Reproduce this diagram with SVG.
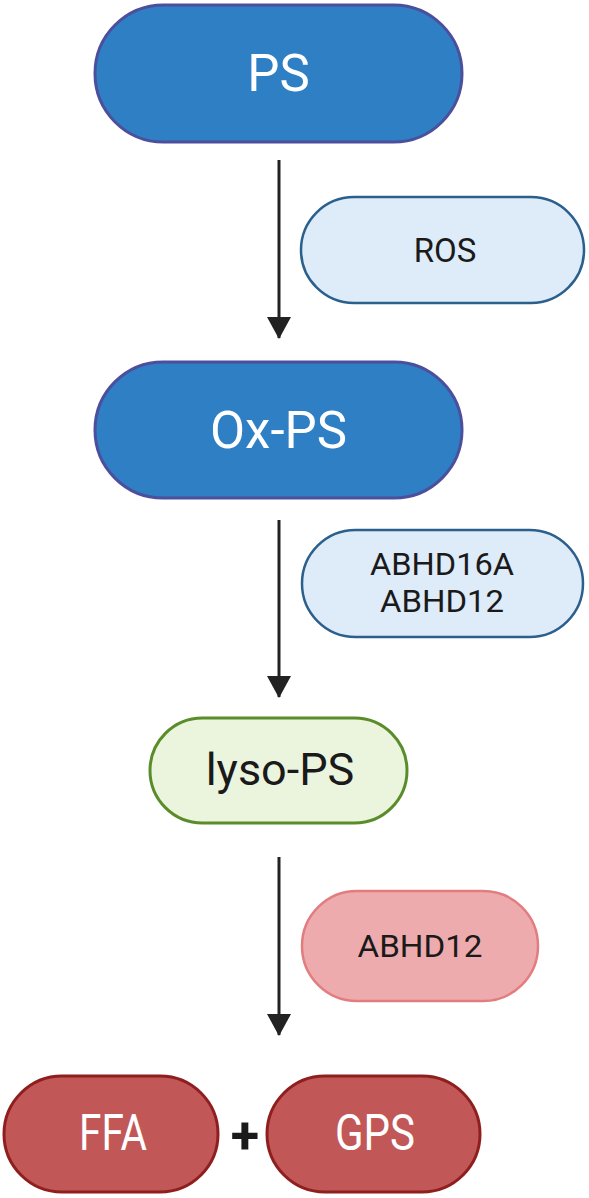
<svg xmlns="http://www.w3.org/2000/svg" width="589" height="1198" viewBox="0 0 589 1198">
<style>
text{font-family:Roboto,"Liberation Sans",sans-serif;text-anchor:middle}
.blue{fill:#2e7fc3;stroke:#4b4f9c;stroke-width:3}
.lblue{fill:#deebf8;stroke:#2b5f8c;stroke-width:2.5}
.green{fill:#ebf5de;stroke:#5b8c2a;stroke-width:3}
.pink{fill:#eeabad;stroke:#e27d7f;stroke-width:2.5}
.red{fill:#c25757;stroke:#8f1f1f;stroke-width:3}
.w{fill:#fff}
.k{fill:#1a1a1a}
.conn line{stroke:#222;stroke-width:3}
</style>
<defs>
<marker id="ah" markerUnits="userSpaceOnUse" markerWidth="22" markerHeight="24" refX="21" refY="12" orient="auto" viewBox="0 0 22 24">
<polygon points="0,0 22,12 0,24" fill="#222"/>
</marker>
</defs>
<g id="PS"><rect class="blue" x="95" y="5" width="367" height="137" rx="68.5"/><text class="w" x="278.5" y="91" font-size="51">PS</text></g>
<g id="ROS"><rect class="lblue" x="301" y="197" width="283" height="106" rx="53"/><text class="k" x="445" y="262" font-size="33">ROS</text></g>
<g id="OxPS"><rect class="blue" x="95" y="362" width="367" height="136" rx="68"/><text class="w" x="278.5" y="448" font-size="51">Ox-PS</text></g>
<g id="ABHD16A"><rect class="lblue" x="302" y="530" width="281" height="107" rx="53.5"/><text class="k" x="442" y="575" font-size="32" textLength="144" lengthAdjust="spacingAndGlyphs">ABHD16A</text><text class="k" x="442" y="612" font-size="32" textLength="124" lengthAdjust="spacingAndGlyphs">ABHD12</text></g>
<g id="lysoPS"><rect class="green" x="150" y="718" width="257" height="105" rx="52.5"/><text class="k" x="280" y="785" font-size="45">lyso-PS</text></g>
<g id="ABHD12"><rect class="pink" x="302" y="891" width="236" height="110" rx="55"/><text class="k" x="420" y="957" font-size="32" textLength="125" lengthAdjust="spacingAndGlyphs">ABHD12</text></g>
<g id="FFA"><rect class="red" x="4" y="1076" width="214" height="116" rx="58"/><text class="w" x="113" y="1150" font-size="50" textLength="68" lengthAdjust="spacingAndGlyphs">FFA</text></g>
<g id="GPS"><rect class="red" x="267" y="1076" width="213" height="116" rx="58"/><text class="w" x="375" y="1150" font-size="50" textLength="80" lengthAdjust="spacingAndGlyphs">GPS</text></g>
<g id="plus"><text class="k" x="245" y="1153" font-size="52" font-weight="bold">+</text></g>
<g class="conn" id="connectors">
<line x1="279" y1="160" x2="279" y2="338" marker-end="url(#ah)"/>
<line x1="279" y1="520" x2="279" y2="697" marker-end="url(#ah)"/>
<line x1="279" y1="857" x2="279" y2="1035" marker-end="url(#ah)"/>
</g>
</svg>
